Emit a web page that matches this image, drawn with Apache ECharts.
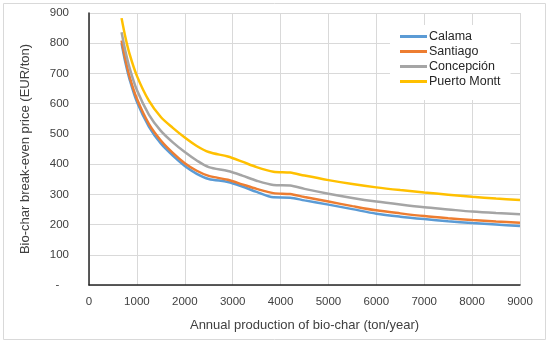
<!DOCTYPE html>
<html>
<head>
<meta charset="utf-8">
<script src="https://cdn.jsdelivr.net/npm/echarts@6/dist/echarts.min.js"></script>
<style>
html,body{margin:0;padding:0;background:#fff;}
#chart{width:550px;height:344px;}
</style>
</head>
<body>
<div id="chart"></div>
<script>
const xValues = [680, 760, 850, 1000, 1250, 1500, 1750, 2000, 2250, 2500, 2900, 3200, 3500, 3850, 4200, 4500, 5000, 5500, 6000, 6500, 7000, 7500, 8000, 8500, 9000];
const calama = [800, 736, 679, 606, 524, 468, 428, 394, 368, 351, 341, 326, 308, 290, 289, 280, 266, 251, 236, 226, 218, 211, 205, 200, 195];
const santiago = [809, 746, 688, 616, 533, 478, 437, 403, 378, 361, 348, 333, 318, 304, 301, 291, 276, 261, 247, 237, 228, 221, 215, 210, 206];
const concepcion = [836, 774, 717, 645, 564, 510, 472, 440, 412, 390, 377, 362, 345, 331, 329, 318, 302, 288, 276, 266, 257, 250, 243, 238, 234];
const puertoMontt = [883, 820, 763, 692, 610, 556, 520, 488, 460, 440, 425, 408, 390, 375, 372, 362, 347, 334, 323, 314, 306, 299, 292, 286, 281];
const seriesNames = ['Calama', 'Santiago', 'Concepción', 'Puerto Montt'];
const colors = ['#5B9BD5', '#ED7D31', '#A5A5A5', '#FFC000'];
const xTitle = 'Annual production of bio-char (ton/year)';
const yTitle = 'Bio-char break-even price (EUR/ton)';

const allSeries = [calama, santiago, concepcion, puertoMontt];
const font = 'Liberation Sans';
const textColor = '#404040';

const chart = echarts.init(document.getElementById('chart'), null, {renderer: 'canvas'});
chart.setOption({
  animation: false,
  color: colors,
  graphic: [{
    type: 'rect',
    shape: {x: 3.5, y: 3.5, width: 542, height: 336},
    style: {fill: 'none', stroke: '#d9d9d9', lineWidth: 1},
    z: -10
  }],
  grid: {left: 89, right: 30, top: 13, bottom: 59, containLabel: false},
  legend: {
    orient: 'vertical',
    left: 390,
    top: 25,
    itemWidth: 27,
    itemHeight: 3,
    itemGap: 2,
    padding: [5, 10, 12, 10],
    backgroundColor: '#ffffff',
    textStyle: {fontFamily: font, fontSize: 12.5, color: '#262626', padding: [0, 0, 0, -3]},
    data: seriesNames.map(n => ({name: n, icon: 'rect'}))
  },
  xAxis: {
    type: 'value',
    min: 0, max: 9000, interval: 1000,
    name: xTitle,
    nameLocation: 'middle',
    nameGap: 34,
    nameTextStyle: {fontFamily: font, fontSize: 13, color: textColor},
    axisLine: {show: true, lineStyle: {color: '#262626', width: 1.5}},
    axisTick: {show: false},
    axisLabel: {fontFamily: font, fontSize: 11.5, color: textColor, margin: 11,
      formatter: v => String(v)},
    splitLine: {show: true, lineStyle: {color: '#d9d9d9', width: 1}}
  },
  yAxis: {
    type: 'value',
    min: 0, max: 900, interval: 100,
    name: yTitle,
    nameLocation: 'middle',
    nameGap: 57,
    nameTextStyle: {fontFamily: font, fontSize: 13, color: textColor},
    axisLine: {show: true, lineStyle: {color: '#262626', width: 1.5}},
    axisTick: {show: false},
    axisLabel: {fontFamily: font, fontSize: 11.5, color: textColor, margin: 20,
      formatter: v => v === 0 ? '-   ' : String(v)},
    splitLine: {show: true, lineStyle: {color: '#d9d9d9', width: 1}}
  },
  series: allSeries.map((arr, i) => ({
    name: seriesNames[i],
    type: 'line',
    smooth: 0.3,
    symbol: 'none',
    lineStyle: {width: 2.5, color: colors[i]},
    data: xValues.map((x, j) => [x, arr[j]])
  }))
});
</script>
</body>
</html>
